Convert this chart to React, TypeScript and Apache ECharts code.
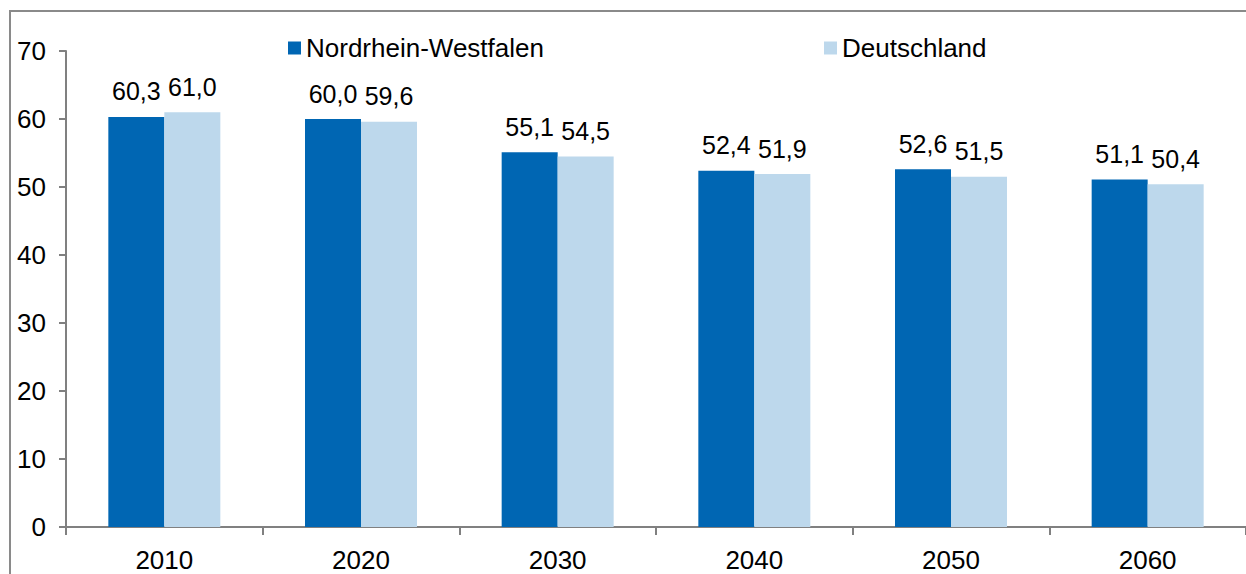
import React, { useEffect, useRef } from "react";
import * as echarts from "echarts";

const categories = ["2010", "2020", "2030", "2040", "2050", "2060"];
const nrwValues = [60.3, 60.0, 55.1, 52.4, 52.6, 51.1];
const deValues = [61.0, 59.6, 54.5, 51.9, 51.5, 50.4];
const seriesNames = ["Nordrhein-Westfalen", "Deutschland"];

const FONT = "Liberation Sans, Arial, sans-serif";

export default function App() {
  const ref = useRef<HTMLDivElement>(null);
  useEffect(() => {
    if (!ref.current) return;
    const chart = echarts.init(ref.current, null, { renderer: "svg" });
    const label = {
      show: true,
      position: "top" as const,
      distance: 13,
      fontSize: 25,
      color: "#000",
      fontFamily: FONT,
      formatter: (p: any) => Number(p.value).toFixed(1).replace(".", ","),
    };
    chart.setOption({
      animation: false,
      textStyle: { fontFamily: FONT },
      graphic: [
        {
          type: "rect",
          shape: { x: 10, y: 11, width: 1260, height: 600 },
          style: { fill: "none", stroke: "#8a8a8a", lineWidth: 2 },
          silent: true,
        },
      ],
      legend: [
        {
          data: [seriesNames[0]],
          left: 283,
          top: 30,
          icon: "rect",
          itemWidth: 13,
          itemHeight: 13,
          textStyle: { fontSize: 26, color: "#000", fontFamily: FONT },
        },
        {
          data: [seriesNames[1]],
          left: 819,
          top: 30,
          icon: "rect",
          itemWidth: 13,
          itemHeight: 13,
          textStyle: { fontSize: 26, color: "#000", fontFamily: FONT },
        },
      ],
      grid: { left: 66, top: 51, width: 1182, height: 476, containLabel: false },
      xAxis: {
        type: "category",
        data: categories,
        axisLine: { lineStyle: { color: "#808080", width: 2 } },
        axisTick: { show: true, alignWithLabel: false, length: 8, lineStyle: { color: "#808080", width: 2 } },
        axisLabel: { fontSize: 26, color: "#000", margin: 20, fontFamily: FONT },
      },
      yAxis: {
        type: "value",
        min: 0,
        max: 70,
        interval: 10,
        splitLine: { show: false },
        axisLine: { show: true, lineStyle: { color: "#808080", width: 2 } },
        axisTick: { show: true, length: 7, lineStyle: { color: "#808080", width: 2 } },
        axisLabel: { fontSize: 26, color: "#000", margin: 20, fontFamily: FONT },
      },
      series: [
        {
          name: seriesNames[0],
          type: "bar",
          data: nrwValues,
          barWidth: 56,
          barGap: "0%",
          itemStyle: { color: "#0066B3" },
          label,
        },
        {
          name: seriesNames[1],
          type: "bar",
          data: deValues,
          barWidth: 56,
          barGap: "0%",
          itemStyle: { color: "#BDD8EC" },
          label,
        },
      ],
    });
    return () => chart.dispose();
  }, []);
  return (
    <div
      ref={ref}
      style={{ position: "fixed", left: 0, top: 0, width: 1246, height: 574, background: "#fff" }}
    />
  );
}
